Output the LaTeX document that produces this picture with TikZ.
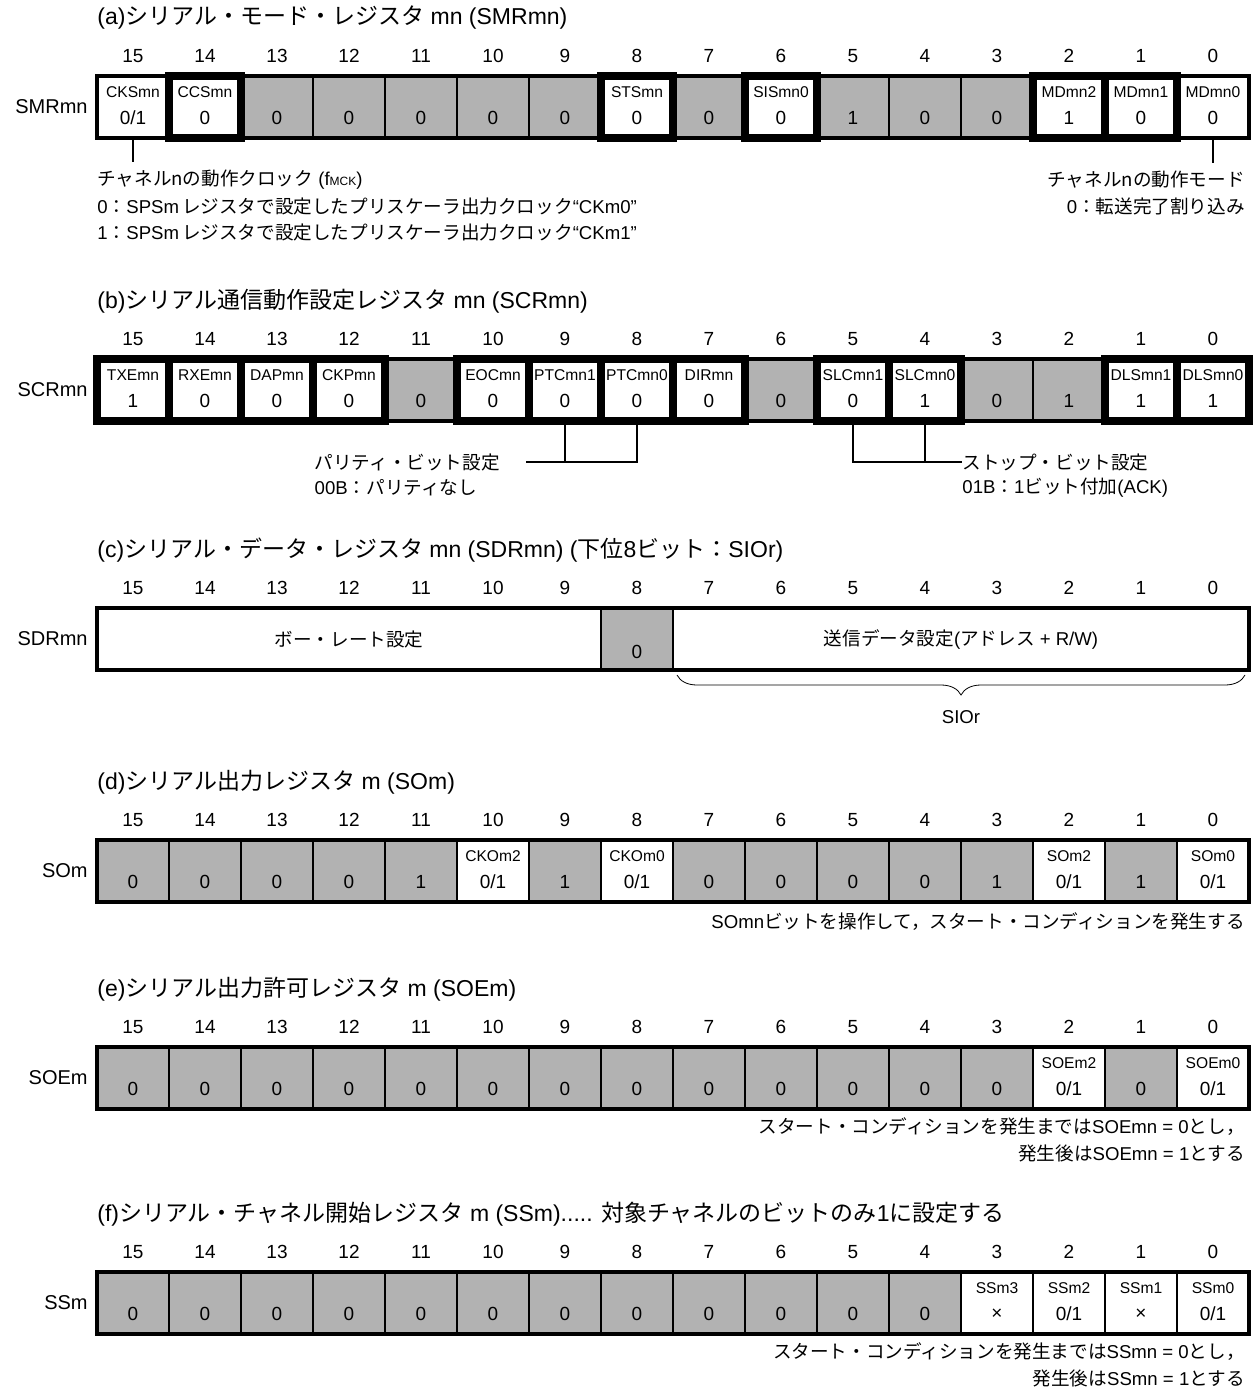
\documentclass[tikz,border=0pt]{standalone}
\usepackage{fontspec}
\setmainfont{Liberation Sans}
\newfontfamily\jpfont{Noto Sans CJK JP}
\newcommand{\jp}[1]{{\jpfont #1}}
\usetikzlibrary{decorations.pathreplacing}
\definecolor{reggray}{gray}{0.70}

\begin{document}
\begin{tikzpicture}[x=0.5pt,y=-0.5pt,
  cell/.style={draw,line width=0.6pt,minimum width=36pt,minimum height=31pt,
               inner sep=0pt,outer sep=0pt},
  regrim/.style={line width=2pt},
  holdbox/.style={line width=4pt},
  bitno/.style={font=\fontsize{9.5}{11}\selectfont,inner sep=0pt},
  fname/.style={font=\fontsize{7.8}{9}\selectfont,inner sep=0pt},
  fval/.style={font=\fontsize{9.5}{11}\selectfont,inner sep=0pt},
  regname/.style={anchor=east,font=\fontsize{10}{11}\selectfont,inner sep=0pt},
  regtitle/.style={anchor=west,font=\fontsize{11.5}{13}\selectfont,inner sep=0pt},
  note/.style={font=\fontsize{9.3}{10}\selectfont,inner sep=0pt},
  conn/.style={line width=0.7pt}]
  \useasboundingbox (0,0) rectangle (1254,1397);

  % (a) serial mode register
  \node[regtitle] (atitle) at (97,18) {(a)\jp{シリアル・モード・レジスタ} mn (SMRmn)};
  \foreach \b/\f/\v in {15/white/{0/1},14/white/0,13/reggray/0,12/reggray/0,
      11/reggray/0,10/reggray/0,9/reggray/0,8/white/0,7/reggray/0,6/white/0,
      5/reggray/1,4/reggray/0,3/reggray/0,2/white/1,1/white/0,0/white/0}{
    \node[cell,fill=\f] (a\b) at ({133+72*(15-\b)},107) {};
    \node[bitno] (an\b) at ([yshift=10pt]a\b.north) {\b};
    \node[fval] (av\b) at ([yshift=-5.5pt]a\b.center) {\v};
  }
  \draw[regrim] (a15.north west) rectangle (a0.south east);
  \foreach \b in {14,8,6,2,1}
    \draw[holdbox] (a\b.north west) rectangle (a\b.south east);
  \foreach \b/\n in {15/CKSmn,14/CCSmn,8/STSmn,6/SISmn0,2/MDmn2,1/MDmn1,0/MDmn0}
    \node[fname] (af\b) at ([yshift=-8pt]a\b.north) {\n};
  \node[regname] (aname) at ([xshift=-4.5pt]a15.west) {SMRmn};
  \node[note,anchor=west] (aclk) at (97,180)
    {\jp{チャネルnの動作クロック} (f{\fontsize{6}{7}\selectfont MCK})};
  \node[note,anchor=west] (aclk0) at (97,206)
    {0\jp{：}SPSm\,\jp{レジスタで設定したプリスケーラ出力クロック}“CKm0”};
  \node[note,anchor=west] (aclk1) at (97,232)
    {1\jp{：}SPSm\,\jp{レジスタで設定したプリスケーラ出力クロック}“CKm1”};
  \node[note,anchor=east] (amode) at (1245,180) {\jp{チャネルnの動作モード}};
  \node[note,anchor=east] (amode0) at (1245,206) {0\jp{：転送完了割り込み}};
  \draw[conn,shorten >=4pt] (a15.south) -- (a15.south |- aclk.north);
  \draw[conn,shorten >=4pt] (a0.south) -- (a0.south |- amode.north);

  % (b) serial communication operation setting register
  \node[regtitle] (btitle) at (97,301) {(b)\jp{シリアル通信動作設定レジスタ} mn (SCRmn)};
  \foreach \b/\f/\v in {15/white/1,14/white/0,13/white/0,12/white/0,
      11/reggray/0,10/white/0,9/white/0,8/white/0,7/white/0,6/reggray/0,
      5/white/0,4/white/1,3/reggray/0,2/reggray/1,1/white/1,0/white/1}{
    \node[cell,fill=\f] (b\b) at ({133+72*(15-\b)},390) {};
    \node[bitno] (bn\b) at ([yshift=10pt]b\b.north) {\b};
    \node[fval] (bv\b) at ([yshift=-5.5pt]b\b.center) {\v};
  }
  \draw[regrim] (b15.north west) rectangle (b0.south east);
  \foreach \b in {15,14,13,12,10,9,8,7,5,4,1,0}
    \draw[holdbox] (b\b.north west) rectangle (b\b.south east);
  \foreach \b/\n in {15/TXEmn,14/RXEmn,13/DAPmn,12/CKPmn,10/EOCmn,9/PTCmn1,
      8/PTCmn0,7/DIRmn,5/SLCmn1,4/SLCmn0,1/DLSmn1,0/DLSmn0}
    \node[fname] (bf\b) at ([yshift=-8pt]b\b.north) {\n};
  \node[regname] (bname) at ([xshift=-4.5pt]b15.west) {SCRmn};
  \node[note,anchor=east] (bpar) at (500,462) {\jp{パリティ・ビット設定}};
  \node[note,anchor=west] (bpar0) at ([yshift=-13pt]bpar.west) {00B\jp{：パリティなし}};
  \draw[conn] ([xshift=13pt]bpar.east) -| (b8.south);
  \draw[conn] (b9.south) -- (b9.south |- bpar.east);
  \node[note,anchor=west] (bstop) at (962,462) {\jp{ストップ・ビット設定}};
  \node[note,anchor=west] (bstop0) at ([yshift=-13pt]bstop.west)
    {01B\jp{：}1\jp{ビット付加}(ACK)};
  \draw[conn] (b5.south) |- (bstop.west);
  \draw[conn] (b4.south) -- (b4.south |- bstop.west);

  % (c) serial data register
  \node[regtitle] (ctitle) at (97,550)
    {(c)\jp{シリアル・データ・レジスタ} mn (SDRmn) (\jp{下位}8\jp{ビット：}SIOr)};
  \foreach \b in {0,...,15}
    \node[bitno] (cn\b) at ({133+72*(15-\b)},588) {\b};
  \node[cell,fill=white,minimum width=252pt,font=\fontsize{9.3}{10}\selectfont]
    (cbaud) at (349,639) {\jp{ボー・レート設定}};
  \node[cell,fill=reggray] (c8) at (637,639) {};
  \node[fval] (cv8) at ([yshift=-6.5pt]c8.center) {0};
  \node[cell,fill=white,minimum width=288pt,font=\fontsize{9.3}{10}\selectfont]
    (cdata) at (961,639) {\jp{送信データ設定}(\jp{アドレス} + R/W)};
  \draw[regrim] (cbaud.north west) rectangle (cdata.south east);
  \node[regname] (cname) at ([xshift=-4.5pt]cbaud.west) {SDRmn};
  \coordinate (cbl) at ([xshift=2pt,yshift=-2.5pt]cdata.south west);
  \coordinate (cbr) at ([xshift=-2pt,yshift=-2.5pt]cdata.south east);
  \draw[decorate,decoration={brace,mirror,amplitude=10pt}] (cbl) -- (cbr);
  \node[note] (csio) at (961,717) {SIOr};

  % (d) serial output register
  \node[regtitle] (dtitle) at (97,782) {(d)\jp{シリアル出力レジスタ} m (SOm)};
  \foreach \b/\f/\v in {15/reggray/0,14/reggray/0,13/reggray/0,12/reggray/0,
      11/reggray/1,10/white/{0/1},9/reggray/1,8/white/{0/1},7/reggray/0,
      6/reggray/0,5/reggray/0,4/reggray/0,3/reggray/1,2/white/{0/1},
      1/reggray/1,0/white/{0/1}}{
    \node[cell,fill=\f] (d\b) at ({133+72*(15-\b)},871) {};
    \node[bitno] (dn\b) at ([yshift=10pt]d\b.north) {\b};
    \node[fval] (dv\b) at ([yshift=-5.5pt]d\b.center) {\v};
  }
  \draw[regrim] (d15.north west) rectangle (d0.south east);
  \foreach \b/\n in {10/CKOm2,8/CKOm0,2/SOm2,0/SOm0}
    \node[fname] (df\b) at ([yshift=-8pt]d\b.north) {\n};
  \node[regname] (dname) at ([xshift=-4.5pt]d15.west) {SOm};
  \node[note,anchor=east] (dnote) at (1245,922)
    {SOmn\jp{ビットを操作して，スタート・コンディションを発生する}};

  % (e) serial output enable register
  \node[regtitle] (etitle) at (97,989) {(e)\jp{シリアル出力許可レジスタ} m (SOEm)};
  \foreach \b/\f/\v in {15/reggray/0,14/reggray/0,13/reggray/0,12/reggray/0,
      11/reggray/0,10/reggray/0,9/reggray/0,8/reggray/0,7/reggray/0,
      6/reggray/0,5/reggray/0,4/reggray/0,3/reggray/0,2/white/{0/1},
      1/reggray/0,0/white/{0/1}}{
    \node[cell,fill=\f] (e\b) at ({133+72*(15-\b)},1078) {};
    \node[bitno] (en\b) at ([yshift=10pt]e\b.north) {\b};
    \node[fval] (ev\b) at ([yshift=-5.5pt]e\b.center) {\v};
  }
  \draw[regrim] (e15.north west) rectangle (e0.south east);
  \foreach \b/\n in {2/SOEm2,0/SOEm0}
    \node[fname] (ef\b) at ([yshift=-8pt]e\b.north) {\n};
  \node[regname] (ename) at ([xshift=-4.5pt]e15.west) {SOEm};
  \node[note,anchor=east] (enote) at (1245,1127)
    {\jp{スタート・コンディションを発生までは}SOEmn = 0\jp{とし，}};
  \node[note,anchor=east] (enote1) at (1245,1153)
    {\jp{発生後は}SOEmn = 1\jp{とする}};

  % (f) serial channel start register
  \node[regtitle] (ftitle) at (97,1214)
    {(f)\jp{シリアル・チャネル開始レジスタ} m (SSm)..... \jp{対象チャネルのビットのみ}1\jp{に設定する}};
  \foreach \b/\f/\v in {15/reggray/0,14/reggray/0,13/reggray/0,12/reggray/0,
      11/reggray/0,10/reggray/0,9/reggray/0,8/reggray/0,7/reggray/0,
      6/reggray/0,5/reggray/0,4/reggray/0,3/white/×,2/white/{0/1},
      1/white/×,0/white/{0/1}}{
    \node[cell,fill=\f] (f\b) at ({133+72*(15-\b)},1303) {};
    \node[bitno] (fn\b) at ([yshift=10pt]f\b.north) {\b};
    \node[fval] (fv\b) at ([yshift=-5.5pt]f\b.center) {\v};
  }
  \draw[regrim] (f15.north west) rectangle (f0.south east);
  \foreach \b/\n in {3/SSm3,2/SSm2,1/SSm1,0/SSm0}
    \node[fname] (ff\b) at ([yshift=-8pt]f\b.north) {\n};
  \node[regname] (fname) at ([xshift=-4.5pt]f15.west) {SSm};
  \node[note,anchor=east] (fnote) at (1245,1352)
    {\jp{スタート・コンディションを発生までは}SSmn = 0\jp{とし，}};
  \node[note,anchor=east] (fnote1) at (1245,1378)
    {\jp{発生後は}SSmn = 1\jp{とする}};
\end{tikzpicture}
\end{document}
